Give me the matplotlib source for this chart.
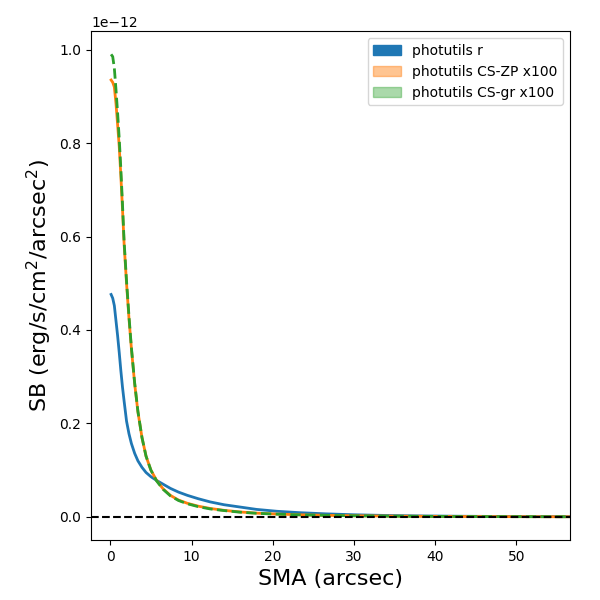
import matplotlib
matplotlib.use("Agg")
import matplotlib.pyplot as plt
from matplotlib.patches import Patch
import numpy as np

sma = [0.1, 0.3, 0.5, 0.7, 0.9, 1.1, 1.3, 1.5, 1.7, 2.0, 2.3, 2.6, 3.0, 3.4, 3.9,
       4.4, 5.0, 5.7, 6.5, 7.4, 8.4, 9.5, 10.8, 12.3, 14.0, 16.0, 18.0, 20.5,
       23.3, 26.5, 30.0, 34.0, 38.5, 43.5, 49.0, 55.0, 60.0]

sb_r = [0.476, 0.468, 0.452, 0.42, 0.388, 0.352, 0.313, 0.278, 0.248, 0.205,
        0.178, 0.157, 0.136, 0.12, 0.106, 0.095, 0.086, 0.078, 0.07, 0.061,
        0.053, 0.046, 0.039, 0.032, 0.026, 0.021, 0.016, 0.012, 0.009, 0.0065,
        0.0045, 0.003, 0.002, 0.0013, 0.0008, 0.0005, 0.0003]

sb_cszp = [0.935, 0.93, 0.92, 0.885, 0.84, 0.793, 0.73, 0.66, 0.585, 0.5,
           0.425, 0.36, 0.285, 0.225, 0.17, 0.13, 0.1, 0.078, 0.06, 0.046,
           0.036, 0.029, 0.023, 0.018, 0.014, 0.0105, 0.008, 0.006, 0.0045,
           0.0033, 0.0024, 0.0017, 0.0012, 0.0008, 0.0005, 0.0003, 0.0002]

sb_csgr = [0.99, 0.985, 0.96, 0.915, 0.865, 0.81, 0.745, 0.67, 0.59, 0.505,
           0.43, 0.362, 0.287, 0.226, 0.17, 0.13, 0.1, 0.077, 0.059, 0.045,
           0.035, 0.028, 0.022, 0.017, 0.0135, 0.01, 0.0077, 0.0058, 0.0043,
           0.0032, 0.0023, 0.0016, 0.0011, 0.0007, 0.0005, 0.0003, 0.0002]

labels = ["photutils r", "photutils CS-ZP x100", "photutils CS-gr x100"]

scale = 1e-12
fig = plt.figure(figsize=(6, 6), dpi=100)
ax = fig.add_axes([0.152, 0.1, 0.798, 0.848])

ax.plot(sma, np.array(sb_r) * scale, color="C0", lw=2)
ax.plot(sma, np.array(sb_cszp) * scale, color="C1", lw=2)
ax.plot(sma, np.array(sb_csgr) * scale, color="C2", lw=2, ls="--")
ax.axhline(0, color="k", ls="--", lw=1.5)

ax.set_xlim(-2.35, 56.6)
ax.set_ylim(-0.0495e-12, 1.0395e-12)

ax.set_xlabel("SMA (arcsec)", fontsize=16)
ax.set_ylabel("SB (erg/s/cm$^2$/arcsec$^2$)", fontsize=16)

handles = [Patch(color="C0", alpha=1.0),
           Patch(color="C1", alpha=0.45),
           Patch(color="C2", alpha=0.4)]
ax.legend(handles, labels, loc="upper right")

fig.savefig("out.png", dpi=100)
